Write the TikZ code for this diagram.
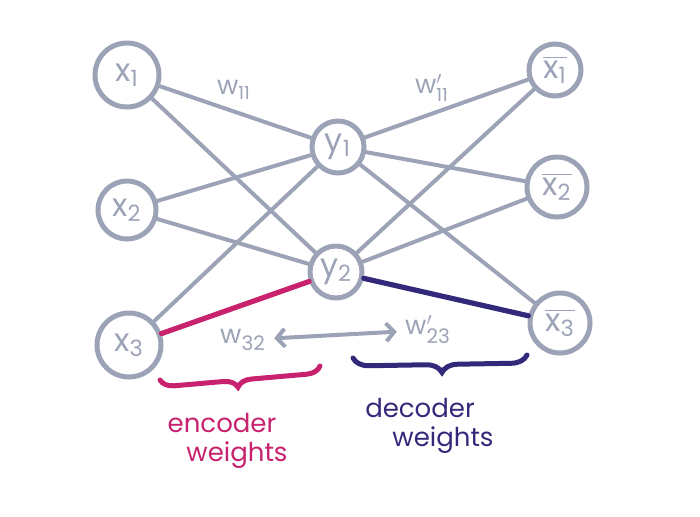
\documentclass[tikz,border=0pt]{standalone}
\usepackage{fontspec}
\setmainfont{Poppins}
\usetikzlibrary{arrows.meta,decorations.pathreplacing}
\definecolor{pencil}{HTML}{9CA3B6}
\definecolor{enccol}{HTML}{C8226E}
\definecolor{deccol}{HTML}{33297A}

\begin{document}
\begin{tikzpicture}[x=0.5pt, y=-0.5pt,
    neuron/.style={circle, draw=pencil, line width=2.5pt, text=pencil, inner sep=0pt, font=\fontsize{16}{16}\selectfont},
    wire/.style={pencil, line width=2pt, line cap=round},
    wlabel/.style={text=pencil, inner sep=2pt, font=\fontsize{13}{13}\selectfont},
    bracelabel/.style={font=\fontsize{13}{13}\selectfont, inner sep=0pt}]
    \useasboundingbox (0,0) rectangle (700,516);
    % input layer
    \node[neuron, minimum size=32pt] (x1) at (127,75) {x\textsubscript{1}};
    \node[neuron, minimum size=29pt] (x2) at (127,210) {x\textsubscript{2}};
    \node[neuron, minimum size=32pt] (x3) at (129,345) {x\textsubscript{3}};
    % hidden layer
    \node[neuron, minimum size=26pt] (y1) at (338,147) {y\textsubscript{1}};
    \node[neuron, minimum size=26pt] (y2) at (336,272) {y\textsubscript{2}};
    % output layer
    \node[neuron, minimum size=26pt] (xb1) at (555,70) {$\overline{\mbox{x\textsubscript{1}}}$};
    \node[neuron, minimum size=30pt] (xb2) at (557,187) {$\overline{\mbox{x\textsubscript{2}}}$};
    \node[neuron, minimum size=30pt] (xb3) at (560,323) {$\overline{\mbox{x\textsubscript{3}}}$};
    % all the weights
    \foreach \i in {1,2,3}
        \foreach \j in {1,2}
            \draw[wire] (x\i) -- (y\j);
    \foreach \j in {1,2}
        \foreach \k in {1,2,3}
            \draw[wire] (y\j) -- (xb\k);
    \draw[wire, enccol, line width=2.6pt] (x3) -- (y2);
    \draw[wire, deccol, line width=2.6pt] (y2) -- (xb3);
    % labels
    \node[wlabel] (w11) at (234,90) {$\mbox{w}_{\mbox{\fontsize{9}{9}\selectfont 11}}$};
    \node[wlabel] (wd11) at (432,88) {$\mbox{w}^{\prime}_{\mbox{\fontsize{9}{9}\selectfont 11}}$};
    \node[wlabel] (w32) at (243,340) {$\mbox{w}_{\mbox{\fontsize{10}{10}\selectfont 32}}$};
    \node[wlabel] (wd23) at (428,330) {$\mbox{w}^{\prime}_{\mbox{\fontsize{10}{10}\selectfont 23}}$};
    \draw[wire, shorten <=2pt, shorten >=2pt, {Straight Barb[length=4pt,width=9pt]}-{Straight Barb[length=4pt,width=9pt]}] (w32) -- (wd23);
    % braces
    \coordinate (encL) at (160,380);
    \coordinate (encR) at (320,366);
    \coordinate (decL) at (353,358);
    \coordinate (decR) at (527,355);
    \draw[enccol, line width=2.5pt, line cap=round, decorate, decoration={brace, mirror, amplitude=7pt, aspect=0.48}] (encL) -- (encR);
    \draw[deccol, line width=2.5pt, line cap=round, decorate, decoration={brace, mirror, amplitude=8pt, aspect=0.51}] (decL) -- (decR);
    \node[bracelabel, text=enccol] (enc1) at (222,423) {encoder};
    \node[bracelabel, text=enccol] (enc2) at (237,455) {weights};
    \node[bracelabel, text=deccol] (dec1) at (420,408) {decoder};
    \node[bracelabel, text=deccol] (dec2) at (443,440) {weights};
\end{tikzpicture}
\end{document}
